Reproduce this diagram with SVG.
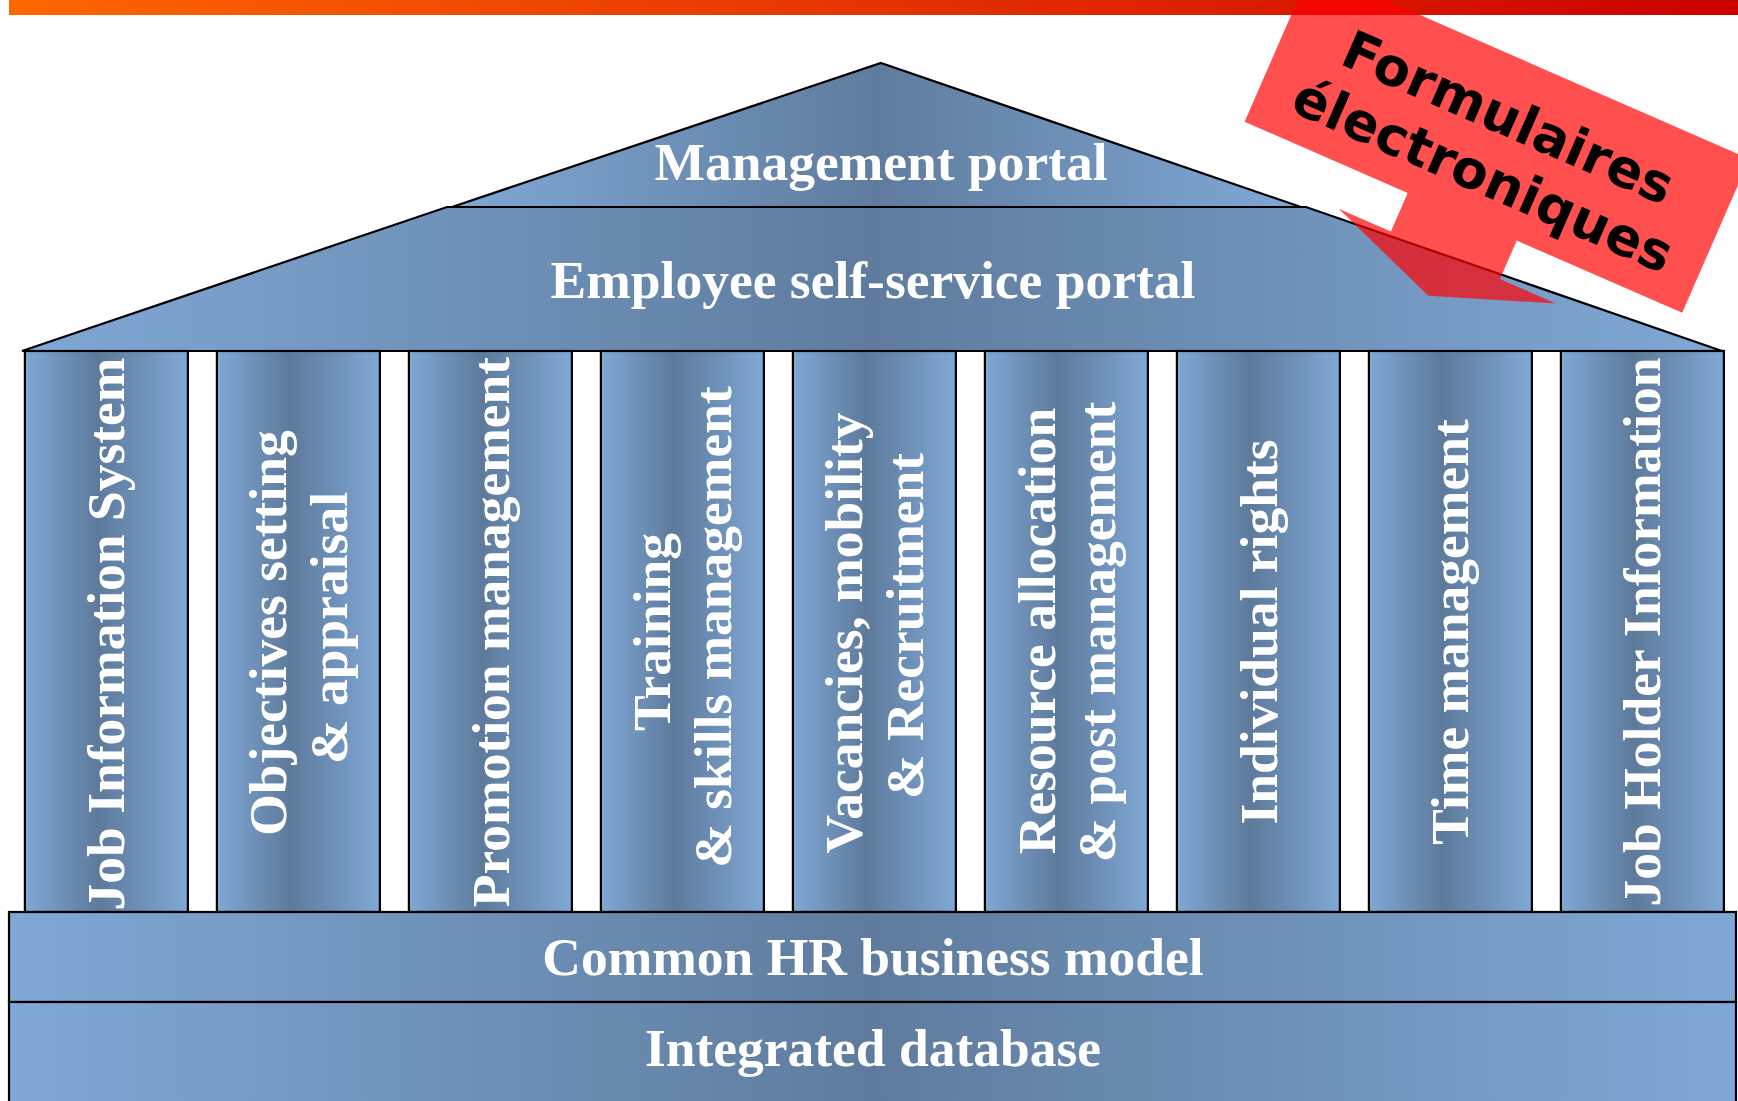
<svg xmlns="http://www.w3.org/2000/svg" width="1738" height="1101" viewBox="0 0 1738 1101">
<defs>
<style>
.lbl{font-family:"Liberation Serif","Times New Roman",serif;font-weight:bold;font-size:53.5px;fill:#ffffff;text-anchor:middle}
.edge{stroke:#000000;stroke-width:2.2;stroke-linejoin:miter}
.roof{fill:url(#blue)}
.col{fill:url(#colg)}
.ctext{font-family:"DejaVu Sans",Verdana,sans-serif;font-weight:bold;font-size:53px;fill:#000000;text-anchor:middle}
</style>
<linearGradient id="bar" x1="0" y1="0" x2="1" y2="0">
<stop offset="0" stop-color="#ff6600"/>
<stop offset="1" stop-color="#cc0000"/>
</linearGradient>
<linearGradient id="blue" x1="0" y1="0" x2="1" y2="0">
<stop offset="0" stop-color="#80a8d6"/>
<stop offset="0.5" stop-color="#5f7c9e"/>
<stop offset="1" stop-color="#80a8d6"/>
</linearGradient>
<linearGradient id="colg" x1="0" y1="0" x2="1" y2="0">
<stop offset="0" stop-color="#80a8d6"/>
<stop offset="0.45" stop-color="#5d7a9b"/>
<stop offset="1" stop-color="#80a8d6"/>
</linearGradient>
</defs>

<rect id="top-bar" x="9" y="0" width="1729" height="15" fill="url(#bar)"/>

<g id="employee-portal">
<polygon class="roof edge" points="447,207 1306,207 1722,351 22,351"/>
<text class="lbl" x="873" y="298">Employee self-service portal</text>
</g>

<g id="management-portal">
<polygon class="roof edge" points="881,63 1301,207 452,207"/>
<text class="lbl" x="881" y="180">Management portal</text>
</g>

<g id="col-job-information-system">
<rect class="col edge" x="24.9" y="351" width="163" height="561"/>
<text class="lbl" transform="translate(124.4,634) rotate(-90)">Job Information System</text>
</g>
<g id="col-objectives">
<rect class="col edge" x="216.9" y="351" width="163" height="561"/>
<text class="lbl" transform="translate(285.9,633) rotate(-90)">Objectives setting</text>
<text class="lbl" transform="translate(346.9,628) rotate(-90)">&amp; appraisal</text>
</g>
<g id="col-promotion">
<rect class="col edge" x="408.9" y="351" width="163" height="561"/>
<text class="lbl" transform="translate(508.9,632) rotate(-90)">Promotion management</text>
</g>
<g id="col-training">
<rect class="col edge" x="600.9" y="351" width="163" height="561"/>
<text class="lbl" transform="translate(670.4,632) rotate(-90)">Training</text>
<text class="lbl" transform="translate(731.4,627) rotate(-90)">&amp; skills management</text>
</g>
<g id="col-vacancies">
<rect class="col edge" x="792.9" y="351" width="163" height="561"/>
<text class="lbl" transform="translate(862.4,633) rotate(-90)">Vacancies, mobility</text>
<text class="lbl" transform="translate(923.4,626) rotate(-90)">&amp; Recruitment</text>
</g>
<g id="col-resource">
<rect class="col edge" x="984.9" y="351" width="163" height="561"/>
<text class="lbl" transform="translate(1054.9,631) rotate(-90)">Resource allocation</text>
<text class="lbl" transform="translate(1115.4,632) rotate(-90)">&amp; post management</text>
</g>
<g id="col-individual-rights">
<rect class="col edge" x="1176.9" y="351" width="163" height="561"/>
<text class="lbl" transform="translate(1276.6,632) rotate(-90)">Individual rights</text>
</g>
<g id="col-time">
<rect class="col edge" x="1368.9" y="351" width="163" height="561"/>
<text class="lbl" transform="translate(1468.4,632) rotate(-90)">Time management</text>
</g>
<g id="col-job-holder">
<rect class="col edge" x="1560.9" y="351" width="163" height="561"/>
<text class="lbl" transform="translate(1659.6,632) rotate(-90)">Job Holder Information</text>
</g>

<g id="common-hr-business-model">
<rect class="roof edge" x="9" y="912" width="1727" height="90"/>
<text class="lbl" x="873" y="975">Common HR business model</text>
</g>
<g id="integrated-database">
<rect class="roof edge" x="9" y="1002" width="1727" height="112"/>
<text class="lbl" x="873" y="1066">Integrated database</text>
</g>

<g id="callout-formulaires" transform="translate(1244.6,121.7) rotate(23.6)">
<path d="M0,0 H178 V42 H121 L238,86 L358,42 H297 V0 H477.5 V-168 H0 Z" fill="#ff0000" fill-opacity="0.69"/>
<text class="ctext" x="240" y="-91">Formulaires</text>
<text class="ctext" x="240" y="-28">électroniques</text>
</g>
</svg>
